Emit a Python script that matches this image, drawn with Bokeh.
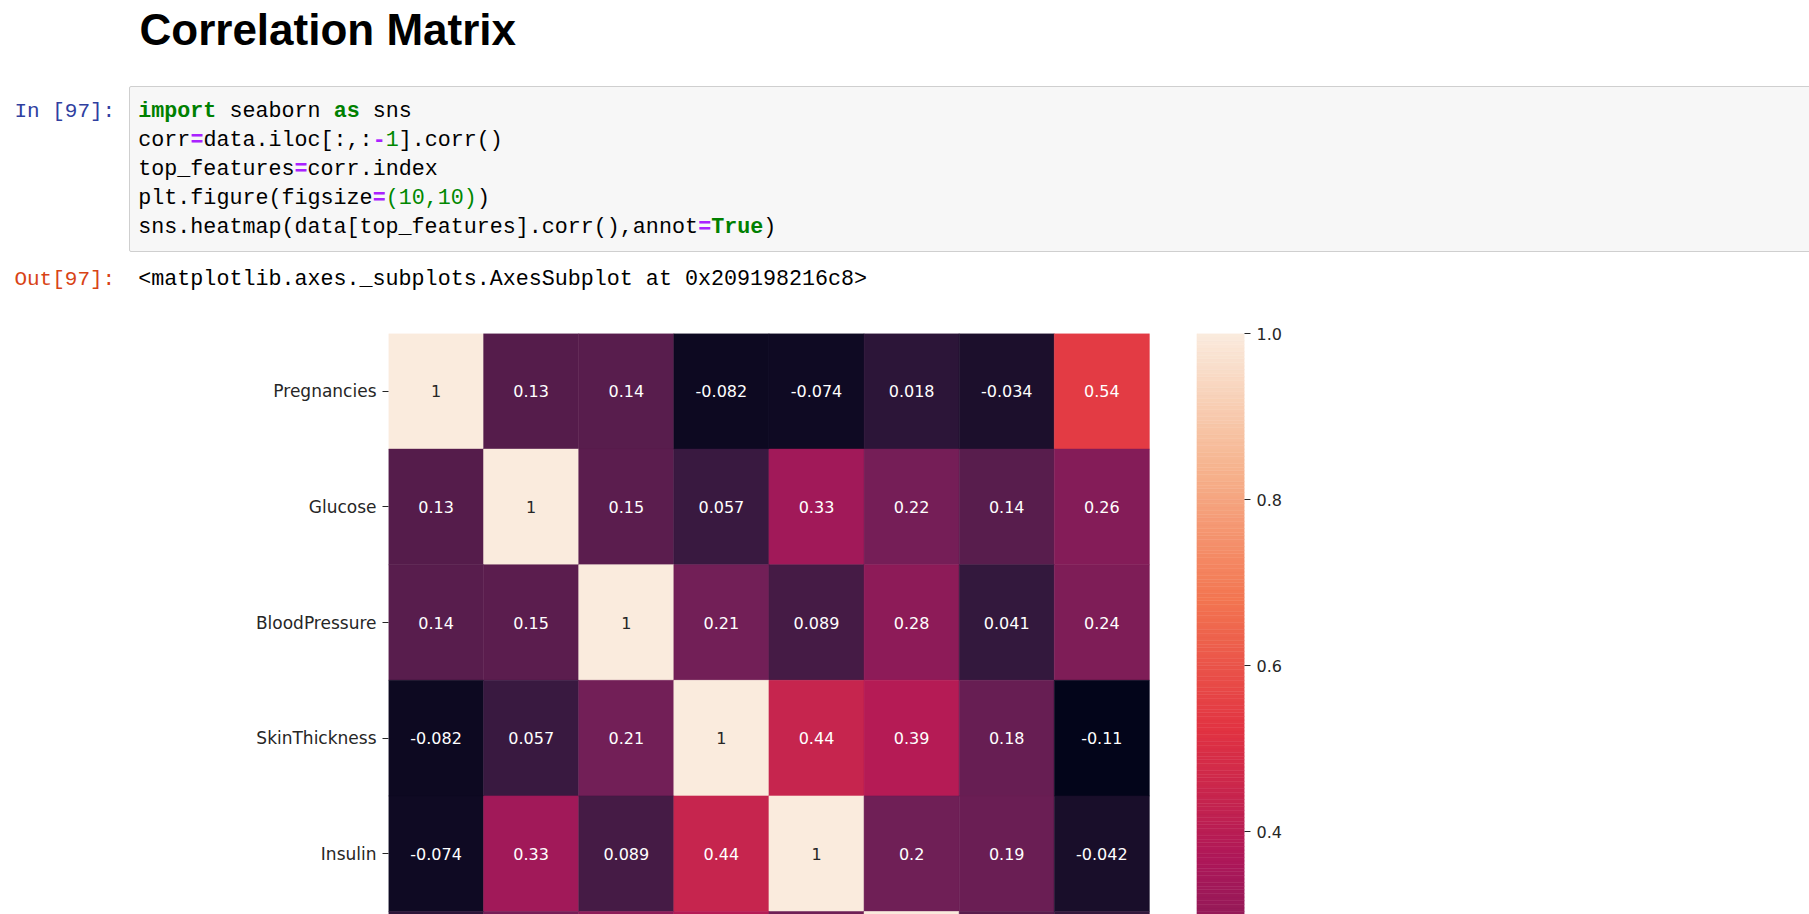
from bokeh.plotting import figure
from bokeh.layouts import column
from bokeh.models import (LinearColorMapper, ColumnDataSource, Range1d, LinearAxis,
                          FixedTicker, PrintfTickFormatter, Div)
from bokeh.core.properties import value
from bokeh.embed import file_html
from bokeh.resources import INLINE

# ---------------- data ----------------
features = ["Pregnancies", "Glucose", "BloodPressure", "SkinThickness", "Insulin",
            "BMI", "DiabetesPedigreeFunction", "Age"]
pregnancies = [1, 0.13, 0.14, -0.082, -0.074, 0.018, -0.034, 0.54]
glucose = [0.13, 1, 0.15, 0.057, 0.33, 0.22, 0.14, 0.26]
blood_pressure = [0.14, 0.15, 1, 0.21, 0.089, 0.28, 0.041, 0.24]
skin_thickness = [-0.082, 0.057, 0.21, 1, 0.44, 0.39, 0.18, -0.11]
insulin = [-0.074, 0.33, 0.089, 0.44, 1, 0.2, 0.19, -0.042]
bmi = [0.018, 0.22, 0.28, 0.39, 0.2, 1, 0.14, 0.036]
rows = [pregnancies, glucose, blood_pressure, skin_thickness, insulin, bmi]
color_low = -0.114
color_high = 1.0
cbar_ticks = [0.4, 0.6, 0.8, 1.0]

# ---------------- rocket colormap ----------------
anchors = [(0.0, "#03051a"), (1/7, "#35193e"), (2/7, "#701f57"), (3/7, "#ad1759"),
           (4/7, "#e13342"), (5/7, "#f37651"), (6/7, "#f6b48f"), (1.0, "#faebdd")]

def hex2rgb(h):
    return tuple(int(h[i:i + 2], 16) for i in (1, 3, 5))

def make_palette(n=256):
    out = []
    for k in range(n):
        t = k / (n - 1)
        for (p0, c0), (p1, c1) in zip(anchors[:-1], anchors[1:]):
            if p0 <= t <= p1:
                f = (t - p0) / (p1 - p0)
                a, b = hex2rgb(c0), hex2rgb(c1)
                rgb = [round(a[j] + f * (b[j] - a[j])) for j in range(3)]
                out.append("#%02x%02x%02x" % tuple(rgb))
                break
    return out

rocket = make_palette()
mapper = LinearColorMapper(palette=rocket, low=color_low, high=color_high)

# ---------------- geometry ----------------
W, H = 1809, 914
HEAD_H = 320                      # height of the notebook header strip
FL, FR, FT = 388, 1244, 333       # heatmap frame left/right/top in page px
ROW_PX = 115.6
y_bottom = -0.5 + (H - FT) / ROW_PX
span = color_high - color_low
cbar_bottom = color_high - (y_bottom + 0.5) * span / len(features)

# ================= notebook header (HTML text) =================
BLK = ("#000000", "normal")
GRN = ("#008000", "bold")
NUM = ("#008800", "normal")
PUR = ("#aa22ff", "bold")
code_lines = [
    [("import", GRN), (" seaborn ", BLK), ("as", GRN), (" sns", BLK)],
    [("corr", BLK), ("=", PUR), ("data.iloc[:,:", BLK), ("-", PUR), ("1", NUM),
     ("].corr()", BLK)],
    [("top_features", BLK), ("=", PUR), ("corr.index", BLK)],
    [("plt.figure(figsize", BLK), ("=", PUR), ("(10,10)", NUM), (")", BLK)],
    [("sns.heatmap(data[top_features].corr(),annot", BLK), ("=", PUR), ("True", GRN),
     (")", BLK)],
]
MONO = "'Liberation Mono', monospace"
CODE_FS = 21.7
CW = CODE_FS * 0.6001
CODE_X = 138.3
LINE_H = 29.0
FIRST_TOP = 97.2

def esc(s):
    return s.replace("&", "&amp;").replace("<", "&lt;").replace(">", "&gt;")

parts = []
parts.append(f'<div style="position:absolute;left:139.5px;top:8.4px;font-family:\'Liberation Sans\',sans-serif;'
             f'font-weight:bold;font-size:44px;line-height:44px;color:#000;white-space:nowrap;">Correlation Matrix</div>')
parts.append(f'<div style="position:absolute;left:128.5px;top:85.7px;width:{W}px;height:166px;box-sizing:border-box;'
             f'background:#f7f7f7;border:1px solid #cfcfcf;border-radius:2px;"></div>')
for li, segs in enumerate(code_lines):
    col = 0
    top = FIRST_TOP + LINE_H * li
    for txt, (colr, wt) in segs:
        if txt.strip():
            lead = len(txt) - len(txt.lstrip(" "))
            core = txt.strip(" ")
            x = CODE_X + (col + lead) * CW
            parts.append(f'<div style="position:absolute;left:{x:.2f}px;top:{top:.1f}px;font-family:{MONO};'
                         f'font-size:{CODE_FS}px;line-height:{LINE_H}px;color:{colr};font-weight:{wt};'
                         f'white-space:pre;">{esc(core)}</div>')
        col += len(txt)
parts.append(f'<div style="position:absolute;left:14.4px;top:97.4px;font-family:{MONO};font-size:21px;'
             f'line-height:29px;color:#303f9f;white-space:pre;">In [97]:</div>')
parts.append(f'<div style="position:absolute;left:14.4px;top:264.9px;font-family:{MONO};font-size:21px;'
             f'line-height:29px;color:#d84315;white-space:pre;">Out[97]:</div>')
parts.append(f'<div style="position:absolute;left:{CODE_X}px;top:264.7px;font-family:{MONO};font-size:{CODE_FS}px;'
             f'line-height:29px;color:#000;white-space:pre;">'
             f'{esc("<matplotlib.axes._subplots.AxesSubplot at 0x209198216c8>")}</div>')
head_html = (f'<div style="position:relative;width:{W}px;height:{HEAD_H}px;overflow:hidden;'
             f'background:#ffffff;">' + "".join(parts) + "</div>")
head = Div(text=head_html, width=W, height=HEAD_H, margin=0,
           styles={"padding": "0", "margin": "0"})

# ================= heatmap =================
p = figure(width=W, height=H - HEAD_H, output_backend="svg", toolbar_location=None,
           x_range=Range1d(-0.5, 8.5), y_range=Range1d(y_bottom, -0.5),
           x_axis_location=None, y_axis_location="left",
           min_border_left=FL, min_border_right=W - FR, min_border_top=FT - HEAD_H,
           min_border_bottom=0, background_fill_color="white",
           border_fill_color="white", outline_line_color=None, margin=0)
p.grid.visible = False
p.extra_y_ranges = {"cbar": Range1d(cbar_bottom, color_high)}

xs, ys, vs = [], [], []
tx, ty, labels, tcols = [], [], [], []
for r, row in enumerate(rows):
    for c, v in enumerate(row):
        xs.append(c)
        ys.append(r)
        vs.append(v)
        if r + 0.3 < y_bottom:          # annotations only where visible
            tx.append(c)
            ty.append(r)
            labels.append("{:.2g}".format(v))
            tcols.append("#262626" if v > 0.75 else "#ffffff")
cells = ColumnDataSource(dict(x=xs, y=ys, v=vs))
notes = ColumnDataSource(dict(x=tx, y=ty, label=labels, tc=tcols))
p.rect(x="x", y="y", width=1, height=1, source=cells,
       fill_color={"field": "v", "transform": mapper},
       line_color={"field": "v", "transform": mapper}, line_width=0.5)
p.text(x="x", y="y", text="label", source=notes, text_color="tc",
       text_font=value("DejaVu Sans"), text_font_size="16px",
       text_align="center", text_baseline="middle")

# colorbar
n = len(rocket)
cb_bottom = [color_low + i * span / n for i in range(n)]
cb_top = [color_low + (i + 1) * span / n for i in range(n)]
p.quad(left=8.0, right=8.5, bottom=cb_bottom, top=cb_top, fill_color=rocket,
       line_color=rocket, line_width=0.5, y_range_name="cbar")

# axes
yax = p.yaxis[0]
yax.ticker = FixedTicker(ticks=list(range(len(features))))
yax.major_label_overrides = {i: f for i, f in enumerate(features)}
yax.axis_line_color = None
yax.major_tick_out = 6
yax.major_tick_in = 0
yax.minor_tick_line_color = None
yax.major_tick_line_color = "#262626"
yax.major_label_text_font = "DejaVu Sans"
yax.major_label_text_font_size = "17px"
yax.major_label_text_color = "#262626"
yax.major_label_standoff = 6

cax = LinearAxis(y_range_name="cbar", ticker=FixedTicker(ticks=cbar_ticks),
                 formatter=PrintfTickFormatter(format="%.1f"))
cax.axis_line_color = None
cax.major_tick_out = 6
cax.major_tick_in = 0
cax.minor_tick_line_color = None
cax.major_tick_line_color = "#262626"
cax.major_label_text_font = "DejaVu Sans"
cax.major_label_text_font_size = "16px"
cax.major_label_text_color = "#262626"
cax.major_label_standoff = 6
p.add_layout(cax, "right")

layout = column(head, p, spacing=0, margin=0)
open("out.html", "w").write(file_html(layout, INLINE))
